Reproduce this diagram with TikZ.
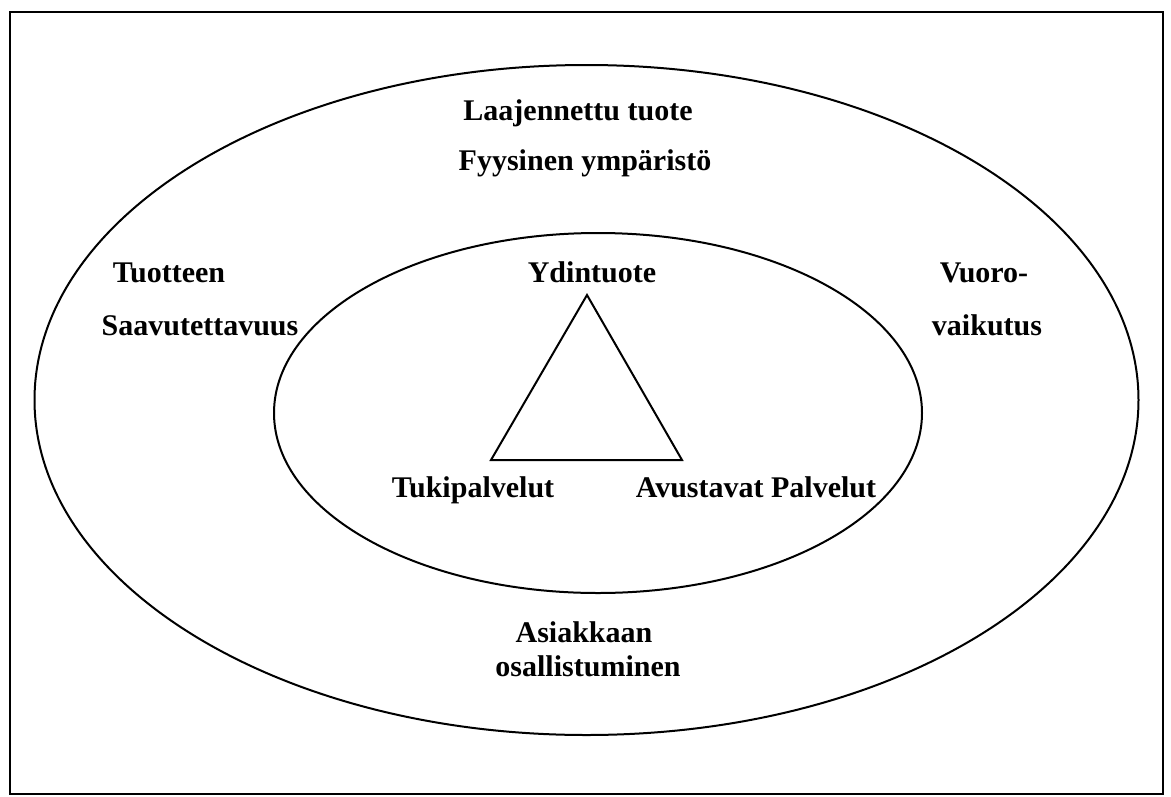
\documentclass[tikz,border=0pt]{standalone}
\usepackage{fontspec}
\setmainfont{Liberation Serif}
\begin{document}
\begin{tikzpicture}[x=1pt,y=-1pt,
  lbl/.style={font=\fontsize{30}{36}\selectfont\bfseries, anchor=base, inner sep=0pt},
  frame/.style={line width=2.5pt},
  ring/.style={line width=2pt},
  tri/.style={line width=2pt, line join=miter}]
\useasboundingbox (0,0) rectangle (1171,796);
\draw[frame] (10,12) rectangle (1163,794);
\draw[ring] (586.5,400) ellipse [x radius=552pt, y radius=335pt];
\draw[ring] (598,413) ellipse [x radius=324pt, y radius=180pt];
\coordinate (apex) at (587,295);
\coordinate (bl) at (491,460);
\coordinate (br) at (682,460);
\draw[tri] (apex) -- (bl) -- (br) -- cycle;
\node[lbl] (laaj) at (578,120) {Laajennettu tuote};
\node[lbl] (fyys) at (585,170) {Fyysinen ympäristö};
\node[lbl] (tuot) at (169,282) {Tuotteen};
\node[lbl] (saav) at (200,335) {Saavutettavuus};
\node[lbl] (ydin) at (592,282) {Ydintuote};
\node[lbl] (vuor) at (984,282) {Vuoro-};
\node[lbl] (vaik) at (987,335) {vaikutus};
\node[lbl] (tuki) at (473,497) {Tukipalvelut};
\node[lbl] (avus) at (756,497) {Avustavat Palvelut};
\node[lbl] (asia) at (584,642) {Asiakkaan};
\node[lbl] (osal) at (588,676) {osallistuminen};
\end{tikzpicture}
\end{document}
